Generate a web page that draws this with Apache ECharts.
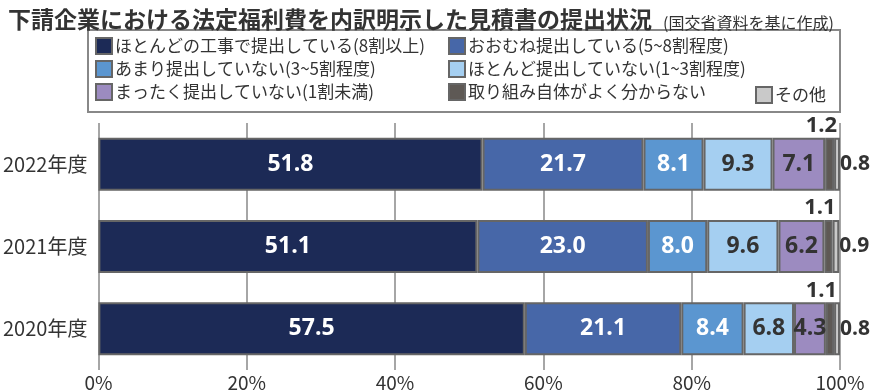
<!DOCTYPE html>
<html><head><meta charset="utf-8">
<script src="https://cdn.jsdelivr.net/npm/echarts@6/dist/echarts.min.js"></script>
<style>html,body{margin:0;padding:0;background:#fff}#c{width:871px;height:392px}</style>
</head><body><div id="c"></div>
<script>
const categories = ['2022年度', '2021年度', '2020年度'];
const seriesNames = ['ほとんどの工事で提出している(8割以上)', 'おおむね提出している(5~8割程度)', 'あまり提出していない(3~5割程度)', 'ほとんど提出していない(1~3割程度)', 'まったく提出していない(1割未満)', '取り組み自体がよく分からない', 'その他'];
const mostly = [51.8, 51.1, 57.5];
const largely = [21.7, 23.0, 21.1];
const rarely = [8.1, 8.0, 8.4];
const hardly = [9.3, 9.6, 6.8];
const never = [7.1, 6.2, 4.3];
const unknown = [1.2, 1.1, 1.1];
const other = [0.8, 0.9, 0.8];
const xTicks = [0, 20, 40, 60, 80, 100];

const values = [mostly, largely, rarely, hardly, never, unknown, other];
const colors = ['#1c2a56', '#4767a8', '#5b96d0', '#a5cff1', '#9c8bc0', '#5e5955', '#c9c9c9'];
const jp = '"Noto Sans CJK JP", sans-serif';
const num = '"Open Sans", "Noto Sans", sans-serif';

function labelFor(i) {
  const base = { show: true, fontFamily: num, fontWeight: 'bold', fontSize: 23,
    formatter: p => p.value.toFixed(1) };
  if (i <= 2) return Object.assign(base, { position: 'inside', color: '#fff' });
  if (i <= 4) return Object.assign(base, { position: 'inside', color: '#333' });
  if (i === 5) return Object.assign(base, { position: ['100%', 0], align: 'right', verticalAlign: 'bottom', offset: [3, -1], color: '#333', fontSize: 22 });
  return Object.assign(base, { position: 'right', distance: 0, color: '#333', fontSize: 21 });
}

const series = values.map((v, i) => ({
  name: seriesNames[i], type: 'bar', stack: 'total', data: v, barWidth: 53,
  itemStyle: { color: colors[i], borderColor: '#666', borderWidth: 2 },
  label: labelFor(i), emphasis: { disabled: true }, animation: false
}));

const legendCommon = { orient: 'vertical', itemWidth: 16, itemHeight: 16, itemGap: 5, padding: 0,
  icon: 'rect', selectedMode: false,
  textStyle: { fontFamily: jp, fontSize: 17, color: '#333', padding: [0, 0, 0, -2], lineHeight: 16 } };

const chart = echarts.init(document.getElementById('c'), null, { renderer: 'canvas' });
chart.setOption({
  animation: false,
  title: [
    { text: '下請企業における法定福利費を内訳明示した見積書の提出状況', left: 3, top: 3,
      textStyle: { fontFamily: jp, fontWeight: 'bold', fontSize: 23, color: '#333' } },
    { text: '(国交省資料を基に作成)', left: 658, top: 10,
      textStyle: { fontFamily: jp, fontWeight: 'normal', fontSize: 16, color: '#333' } }
  ],
  legend: [
    Object.assign({}, legendCommon, { left: 95, top: 37, data: [seriesNames[0], seriesNames[2], seriesNames[4]] }),
    Object.assign({}, legendCommon, { left: 448, top: 37, data: [seriesNames[1], seriesNames[3], seriesNames[5]] }),
    Object.assign({}, legendCommon, { left: 755, top: 86, data: [seriesNames[6]] })
  ],
  graphic: [{ type: 'rect', shape: { x: 88, y: 30, width: 752, height: 82 },
    style: { fill: 'none', stroke: '#888', lineWidth: 2 }, z: -1 }],
  grid: { left: 98, right: 31, top: 123, height: 251, containLabel: false },
  xAxis: { type: 'value', min: xTicks[0], max: xTicks[xTicks.length - 1], interval: xTicks[1] - xTicks[0],
    axisLine: { show: false }, axisTick: { show: false },
    splitLine: { show: true, lineStyle: { color: '#888', width: 1.5 } },
    axisLabel: { formatter: '{value}%', margin: 3, fontFamily: jp, fontSize: 19, color: '#333' } },
  yAxis: { type: 'category', data: categories, inverse: true,
    axisLine: { show: false }, axisTick: { show: false },
    axisLabel: { margin: 11, fontFamily: jp, fontSize: 20, color: '#333' } },
  series: series
});
</script></body></html>
